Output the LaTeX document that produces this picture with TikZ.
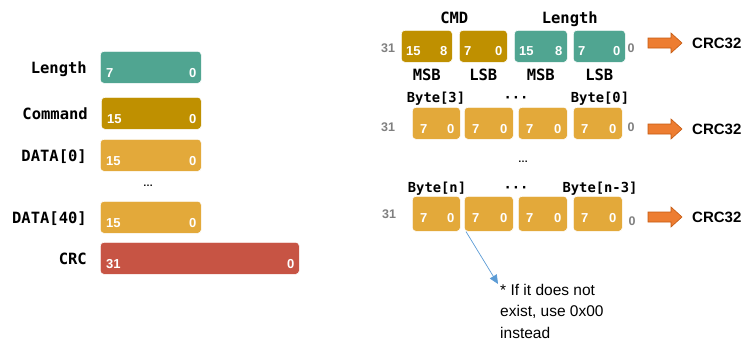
\documentclass[tikz,border=0pt]{standalone}
\usepackage{fontspec}
\setmainfont{Liberation Sans}
\newfontfamily\codefont{DejaVu Sans Mono}
\usepackage{tikz}
\usetikzlibrary{arrows.meta,positioning,calc}
\definecolor{fieldteal}{RGB}{80,165,145}
\definecolor{fieldgold}{RGB}{191,144,0}
\definecolor{fieldamber}{RGB}{227,169,58}
\definecolor{fieldred}{RGB}{199,84,68}
\definecolor{crcorange}{RGB}{237,125,49}
\definecolor{crcedge}{RGB}{197,90,17}
\definecolor{noteblue}{RGB}{91,155,213}
\definecolor{bitgray}{RGB}{127,127,127}

\begin{document}
\begin{tikzpicture}[x=1pt, y=-1pt,
  field/.style={rounded corners=3.5pt, inner sep=0pt, anchor=north west, draw=white, line width=0.6pt},
  bitnum/.style={font=\fontsize{13}{13}\selectfont\bfseries, text=white, inner sep=0pt},
  bitedge/.style={font=\fontsize{12.5}{12.5}\selectfont\bfseries, text=bitgray, inner sep=0pt},
  reglabel/.style={font=\codefont\fontsize{15.5}{15.5}\selectfont\bfseries, inner sep=0pt},
  bytelabel/.style={font=\codefont\fontsize{13.8}{13.8}\selectfont\bfseries, inner sep=0pt, anchor=base},
  crclabel/.style={font=\fontsize{15}{15}\selectfont\bfseries, inner sep=0pt, anchor=west},
  crcarrow/.style={fill=crcorange, draw=crcedge, line width=0.6pt},
  gapdots/.style={font=\fontsize{10}{10}\selectfont\bfseries, inner sep=0pt},
  notetext/.style={font=\fontsize{15.5}{21.5}\selectfont, align=left, inner sep=0pt, anchor=north west},
  notearrow/.style={-{Triangle[length=9pt, width=8pt]}, draw=noteblue, line width=0.7pt}]
  \useasboundingbox (0,0) rectangle (744,343);

  % frame layout
  \node[field, fill=fieldteal, minimum width=101pt, minimum height=32pt] (len) at (100,51) {};
  \node[field, fill=fieldgold, minimum width=100pt, minimum height=32pt] (cmd) at (101,97) {};
  \node[field, fill=fieldamber, minimum width=101pt, minimum height=32pt] (data0) at (100,139) {};
  \node[field, fill=fieldamber, minimum width=101pt, minimum height=32pt] (data40) at (100,201) {};
  \node[field, fill=fieldred, minimum width=199pt, minimum height=32pt] (crc) at (100,242) {};
  \node[gapdots] (leftdots) at (148,186) {…};

  \foreach \f/\t/\h in {len/Length/7, cmd/Command/15, data0/DATA[0]/15, data40/DATA[40]/15, crc/CRC/31} {
    \node[reglabel, anchor=base east] at ([xshift=-13pt, yshift=-6pt]\f.west) {\t};
    \node[bitnum, anchor=base west] at ([xshift=6pt, yshift=6pt]\f.south west) {\h};
    \node[bitnum, anchor=base east] at ([xshift=-5pt, yshift=6pt]\f.south east) {0};
  }

  % first CRC word: CMD + Length
  \foreach \i/\x/\w/\c/\h/\l/\s in {1/401/51/fieldgold/15/8/MSB, 2/459/48/fieldgold/7/0/LSB,
                                      3/514/53/fieldteal/15/8/MSB, 4/573/52/fieldteal/7/0/LSB} {
    \node[field, fill=\c, minimum width=\w*1pt, minimum height=32pt] (w\i) at (\x,30) {};
    \node[bitnum, anchor=base west] at ([xshift=5pt, yshift=7pt]w\i.south west) {\h};
    \node[bitnum, anchor=base east] at ([xshift=-5pt, yshift=7pt]w\i.south east) {\l};
    \node[reglabel, anchor=base] at ([yshift=-18pt]w\i.south) {\s};
  }
  \node[reglabel, anchor=base, yshift=7pt] at ($(w1.north west)!0.5!(w2.north east)$) {CMD};
  \node[reglabel, anchor=base, yshift=7pt] at ($(w3.north west)!0.5!(w4.north east)$) {Length};

  % data words
  \foreach \r/\y/\hgt/\d in {2/107/32/6.5, 3/196/35/9} {
    \foreach \i/\x/\w in {1/412/48, 2/464/49, 3/518/49, 4/573/49} {
      \node[field, fill=fieldamber, minimum width=\w*1pt, minimum height=\hgt*1pt] (b\r\i) at (\x,\y) {};
      \node[bitnum, anchor=base west] at ([xshift=8pt, yshift=\d*1pt]b\r\i.south west) {7};
      \node[bitnum, anchor=base east] at ([xshift=-6pt, yshift=\d*1pt]b\r\i.south east) {0};
    }
  }
  \node[bytelabel] at (436,102) {Byte[3]};
  \node[bytelabel] at (516,102) {···};
  \node[bytelabel] at (600,102) {Byte[0]};
  \node[gapdots] (rightdots) at (523,162) {…};
  \node[bytelabel] at (437,192) {Byte[n]};
  \node[bytelabel] at (516,192) {···};
  \node[bytelabel] at (600,192) {Byte[n-3]};

  % bit positions
  \node[bitedge] (hi1) at (388,48) {31};
  \node[bitedge] (lo1) at (631,48) {0};
  \node[bitedge] (hi2) at (388,127) {31};
  \node[bitedge] (lo2) at (631,127) {0};
  \node[bitedge] (hi3) at (389,214) {31};
  \node[bitedge] (lo3) at (632,221) {0};

  % into CRC32
  \foreach \n/\y in {1/43, 2/129, 3/217} {
    \draw[crcarrow] (648,\y-5) -- (671,\y-5) -- (671,\y-10) -- (682,\y)
      -- (671,\y+10) -- (671,\y+5) -- (648,\y+5) -- cycle;
    \node[crclabel] (crc\n) at (692,\y) {CRC32};
  }

  \node[notetext] (note) at (500,284) {* If it does not\\exist, use 0x00\\instead};
  \draw[notearrow] ([xshift=2pt]b32.south west) -- ([xshift=-2pt]note.north west);
\end{tikzpicture}
\end{document}
